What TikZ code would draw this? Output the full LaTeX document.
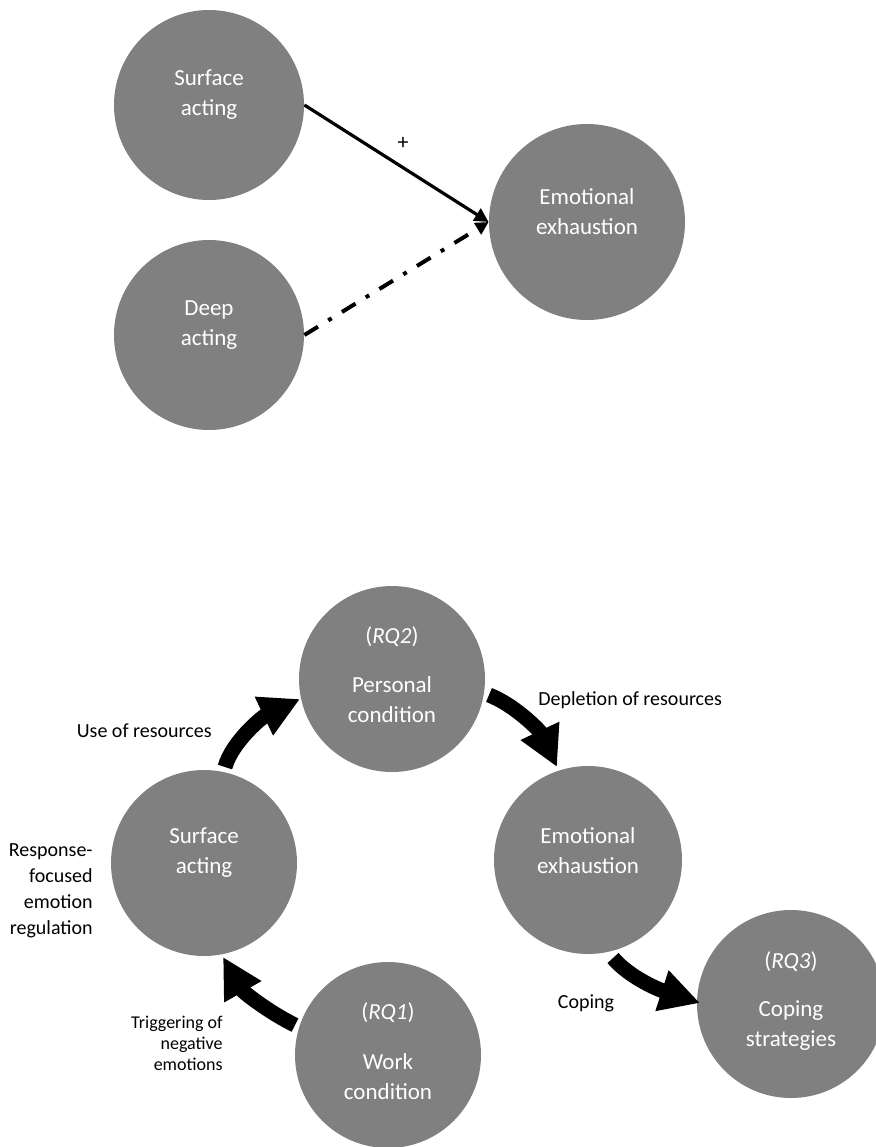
\documentclass[tikz,border=0pt]{standalone}
\usepackage{fontspec}
\setmainfont{Carlito}
\usetikzlibrary{arrows.meta,calc}
\definecolor{circgray}{RGB}{128,128,128}
\tikzset{
  bubble/.style={circle, fill=circgray, draw=none, inner sep=0pt, minimum size=#1},
  intext/.style={text=white, align=center, font=\fontsize{11.5}{15}\selectfont, inner sep=0pt},
  lbl/.style={text=black, font=\fontsize{10}{13}\selectfont, inner sep=0pt},
  smalllbl/.style={text=black, align=right, font=\fontsize{9}{10.5}\selectfont, inner sep=0pt},
  thinarrow/.style={line width=1.6pt, -{Triangle[length=7pt,width=7pt]}},
  dashdotarrow/.style={line width=2pt, dash pattern=on 8pt off 6pt on 2pt off 6pt, -{Triangle[length=6.5pt,width=6.5pt]}},
  blockarrow/.style={line width=7.5pt, -{Triangle[length=20pt,width=20pt]}},
}
\begin{document}
\begin{tikzpicture}[x=0.5pt,y=-0.5pt]
\useasboundingbox (0,0) rectangle (876,1147);

% ---------- top model ----------
\node[bubble=95pt] (sa1) at (209,105) {};
\node[bubble=95pt] (da) at (209,335) {};
\node[bubble=98pt] (ee1) at (587,222) {};
\node[intext] (sa1t) at (209,95) {Surface\\acting};
\node[intext] (dat) at (209,325) {Deep\\acting};
\node[intext] (ee1t) at (587,212) {Emotional\\exhaustion};

\draw[thinarrow] (sa1.east) -- (ee1.west);
\draw[dashdotarrow] (da.east) -- (ee1.west);
\node[lbl, font=\fontsize{11}{13}\selectfont] (plus) at (403,143) {+};

% ---------- bottom model ----------
\node[bubble=93pt] (pc) at (392,679) {};
\node[bubble=93pt] (sa2) at (204,863) {};
\node[bubble=94pt] (ee2) at (588,860) {};
\node[bubble=94pt] (cs) at (791,1004) {};
\node[bubble=93pt] (wc) at (388,1055) {};

\node[intext] (pcq) at (392,637) {(\textit{RQ2})};
\node[intext] (pct) at (392,700) {Personal\\condition};
\node[intext] (sa2t) at (204,853) {Surface\\acting};
\node[intext] (ee2t) at (588,851) {Emotional\\exhaustion};
\node[intext] (csq) at (791,962) {(\textit{RQ3})};
\node[intext] (cst) at (791,1026) {Coping\\strategies};
\node[intext] (wcq) at (388,1013) {(\textit{RQ1})};
\node[intext] (wct) at (388,1077) {Work\\condition};

% curved block arrows
\coordinate (u0) at (225,767);
\coordinate (u1) at (300,699);
\draw[blockarrow] (u0) .. controls (232,742) and (262,717) .. (u1);
\coordinate (d0) at (489,695);
\coordinate (d1) at (557,767);
\draw[blockarrow] (d0) .. controls (515,705) and (540,731) .. (d1);
\coordinate (t0) at (295,1025);
\coordinate (t1) at (223,957);
\draw[blockarrow] (t0) .. controls (270,1013) and (243,992) .. (t1);
\coordinate (c0) at (613,958);
\coordinate (c1) at (700,1003);
\draw[blockarrow] (c0) .. controls (630,978) and (660,990) .. (c1);

% labels
\node[lbl, anchor=east] (use) at (212,731) {Use of resources};
\node[lbl, anchor=west] (dep) at (538,700) {Depletion of resources};
\node[lbl, anchor=east, align=right] (resp) at (93,891) {Response-\\focused\\emotion\\regulation};
\node[smalllbl, anchor=east] (trig) at (223,1043) {Triggering of\\negative\\emotions};
\node[lbl] (cop) at (586,1003) {Coping};
\end{tikzpicture}
\end{document}
